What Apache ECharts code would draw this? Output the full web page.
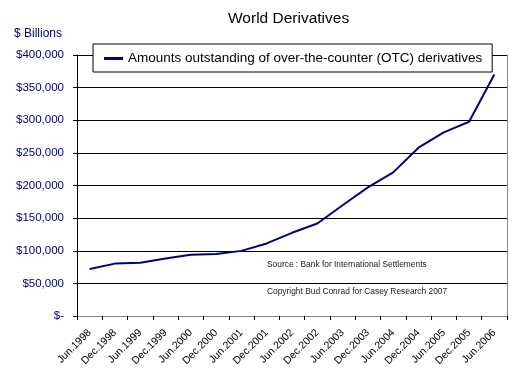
<!DOCTYPE html>
<html>
<head>
<meta charset="utf-8">
<script src="https://cdn.jsdelivr.net/npm/echarts@6/dist/echarts.min.js"></script>
<style>
  html, body { margin: 0; padding: 0; background: #fff; }
  #chart { width: 526px; height: 375px; }
</style>
</head>
<body>
<div id="chart"></div>
<script>
// half-year periods
var periods = ["Jun.1998", "Dec.1998", "Jun.1999", "Dec.1999", "Jun.2000", "Dec.2000",
  "Jun.2001", "Dec.2001", "Jun.2002", "Dec.2002", "Jun.2003", "Dec.2003",
  "Jun.2004", "Dec.2004", "Jun.2005", "Dec.2005", "Jun.2006"];
// OTC derivatives outstanding, $ billions
var otcAmounts = [72000, 80300, 81500, 88200, 94000, 95200, 99800, 111200, 127500,
  141700, 169700, 197200, 220100, 257900, 281500, 297700, 370000];
var yTicks = [0, 50000, 100000, 150000, 200000, 250000, 300000, 350000, 400000];

var font = "Liberation Sans, Arial, sans-serif";
var chart = echarts.init(document.getElementById("chart"));

var option = {
  animation: false,
  title: {
    text: "World Derivatives",
    left: 223,
    top: 6,
    textStyle: { fontSize: 15.5, fontWeight: "normal", color: "#000", fontFamily: font }
  },
  legend: {
    left: 93,
    top: 44,
    padding: [6, 10, 5, 11],
    borderColor: "#000",
    borderWidth: 1,
    backgroundColor: "#fff",
    itemWidth: 19,
    itemHeight: 3,
    itemGap: 5,
    icon: "rect",
    data: ["Amounts outstanding of over-the-counter (OTC) derivatives"],
    textStyle: { fontSize: 13.5, lineHeight: 17, color: "#000", fontFamily: font }
  },
  grid: {
    left: 77,
    right: 19,
    top: 55,
    bottom: 59
  },
  xAxis: [
    {
      type: "category",
      data: periods,
      boundaryGap: true,
      axisLine: { lineStyle: { color: "#000", width: 1 } },
      axisTick: { show: true, length: 4, lineStyle: { color: "#000" } },
      axisLabel: {
        interval: 0,
        rotate: 45,
        margin: 15,
        fontSize: 10.5,
        color: "#000",
        fontFamily: font
      },
      splitLine: { show: false }
    },
    {
      type: "category",
      data: periods,
      position: "top",
      axisLine: { lineStyle: { color: "#888", width: 1 } },
      axisTick: { show: false },
      axisLabel: { show: false },
      splitLine: { show: false }
    }
  ],
  yAxis: [
    {
      type: "value",
      min: yTicks[0],
      max: yTicks[yTicks.length - 1],
      interval: 50000,
      axisLine: { show: true, lineStyle: { color: "#000", width: 1 } },
      axisTick: { show: true, length: 4, lineStyle: { color: "#000" } },
      axisLabel: {
        margin: 13,
        fontSize: 11.5,
        color: "#000080",
        fontFamily: font,
        formatter: function (v) {
          if (v === 0) return "$-";
          return "$" + v.toLocaleString("en-US");
        }
      },
      splitLine: { lineStyle: { color: "#000", width: 1 } }
    },
    {
      type: "value",
      position: "right",
      min: yTicks[0],
      max: yTicks[yTicks.length - 1],
      interval: 50000,
      axisLine: { show: true, lineStyle: { color: "#888", width: 1 } },
      axisTick: { show: false },
      axisLabel: { show: false },
      splitLine: { show: false }
    }
  ],
  graphic: [
    {
      type: "text", left: 14, top: 28,
      style: { text: "$ Billions", fontSize: 12, fill: "#000080", fontFamily: font }
    },
    {
      type: "text", left: 267, top: 261,
      style: { text: "Source : Bank for International Settlements", fontSize: 8.4, fill: "#222", fontFamily: font }
    },
    {
      type: "text", left: 267, top: 288,
      style: { text: "Copyright Bud Conrad for Casey Research 2007", fontSize: 8.4, fill: "#222", fontFamily: font }
    }
  ],
  series: [
    {
      name: "Amounts outstanding of over-the-counter (OTC) derivatives",
      type: "line",
      data: otcAmounts,
      symbol: "none",
      lineStyle: { color: "#000080", width: 2 },
      itemStyle: { color: "#000080" }
    }
  ]
};

chart.setOption(option);
</script>
</body>
</html>
